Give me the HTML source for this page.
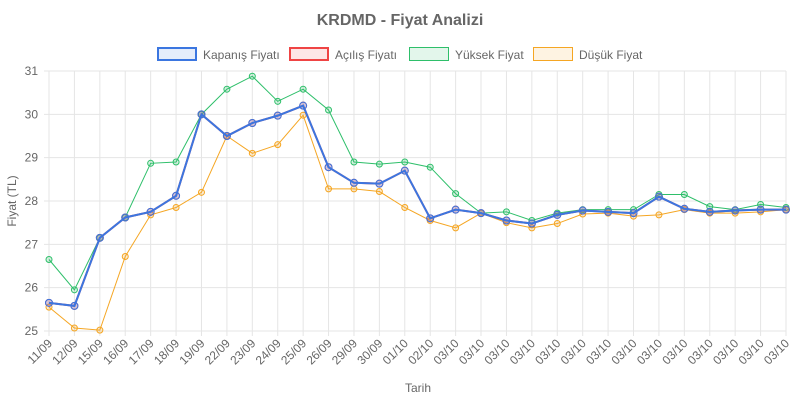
<!DOCTYPE html><html><head><meta charset="utf-8"><style>body{margin:0;background:#fff}svg{font-family:"Liberation Sans",sans-serif}</style></head><body>
<svg id="s" width="800" height="400" xmlns="http://www.w3.org/2000/svg"></svg>
<script>
const L=["11/09","12/09","15/09","16/09","17/09","18/09","19/09","22/09","23/09","24/09","25/09","26/09","29/09","30/09","01/10","02/10"];for(let i=0;i<14;i++)L.push("03/10");
const C=[25.65,25.58,27.15,27.62,27.75,28.12,30.0,29.5,29.8,29.97,30.2,28.78,28.42,28.4,28.7,27.6,27.8,27.72,27.55,27.48,27.68,27.78,27.75,27.72,28.1,27.82,27.75,27.78,27.8,27.8];
const O=C.slice();
const H=[26.65,25.95,27.15,27.62,28.87,28.9,30.0,30.58,30.88,30.3,30.58,30.1,28.9,28.85,28.9,28.78,28.17,27.72,27.75,27.55,27.72,27.8,27.8,27.8,28.15,28.15,27.87,27.8,27.92,27.85];
const W=[25.55,25.07,25.02,26.72,27.68,27.85,28.2,29.5,29.1,29.3,29.98,28.28,28.28,28.22,27.85,27.55,27.38,27.72,27.5,27.38,27.48,27.7,27.72,27.65,27.68,27.8,27.72,27.72,27.75,27.8];
const x0=49,x1=786,y0=71,y1=331;const X=i=>x0+i*(x1-x0)/29,Y=v=>y1-(v-25)*(y1-y0)/6;
let s='<text x="400" y="25" text-anchor="middle" font-size="16" font-weight="bold" fill="#666">KRDMD - Fiyat Analizi</text>';
for(let v=25;v<=31;v++){s+=`<line x1="${x0-5}" x2="${x1}" y1="${Y(v)}" y2="${Y(v)}" stroke="#e5e5e5"/><text x="${x0-11}" y="${Y(v)+4}" text-anchor="end" font-size="12" fill="#666">${v}</text>`}
L.forEach((l,i)=>{s+=`<line x1="${X(i)}" x2="${X(i)}" y1="${y0}" y2="${y1+5}" stroke="#e5e5e5"/><text transform="translate(${X(i)+4},${y1+13}) rotate(-45)" text-anchor="end" font-size="12" fill="#666">${l}</text>`});
s+=`<text x="418" y="392" text-anchor="middle" font-size="12" fill="#666">Tarih</text><text transform="translate(16,201) rotate(-90)" text-anchor="middle" font-size="12" fill="#666">Fiyat (TL)</text>`;
function ser(d,c,w,r){s+=`<polyline fill="none" stroke="${c}" stroke-width="${w}" points="${d.map((v,i)=>X(i)+','+Y(v)).join(' ')}"/>`;d.forEach((v,i)=>s+=`<circle cx="${X(i)}" cy="${Y(v)}" r="${r}" fill="${c}33" stroke="${c}" stroke-width="1"/>`)}
ser(H,"#2ebf6a",1,3);ser(W,"#f5a623",1,3);ser(O,"#ef4444",2,3.5);ser(C,"#3b76e0",2,3.5);
const lg=[["Kapanış Fiyatı","#3b76e0",2,157],["Açılış Fiyatı","#ef4444",2,289],["Yüksek Fiyat","#2ebf6a",1,409],["Düşük Fiyat","#f5a623",1,533]];
lg.forEach(([t,c,w,x])=>{s+=`<rect x="${x+w/2}" y="${47+w/2}" width="${40-w}" height="${14-w}" fill="${c}22" stroke="${c}" stroke-width="${w}"/><text x="${x+46}" y="59" font-size="12" fill="#666">${t}</text>`});
document.getElementById('s').innerHTML=s;
</script></body></html>
